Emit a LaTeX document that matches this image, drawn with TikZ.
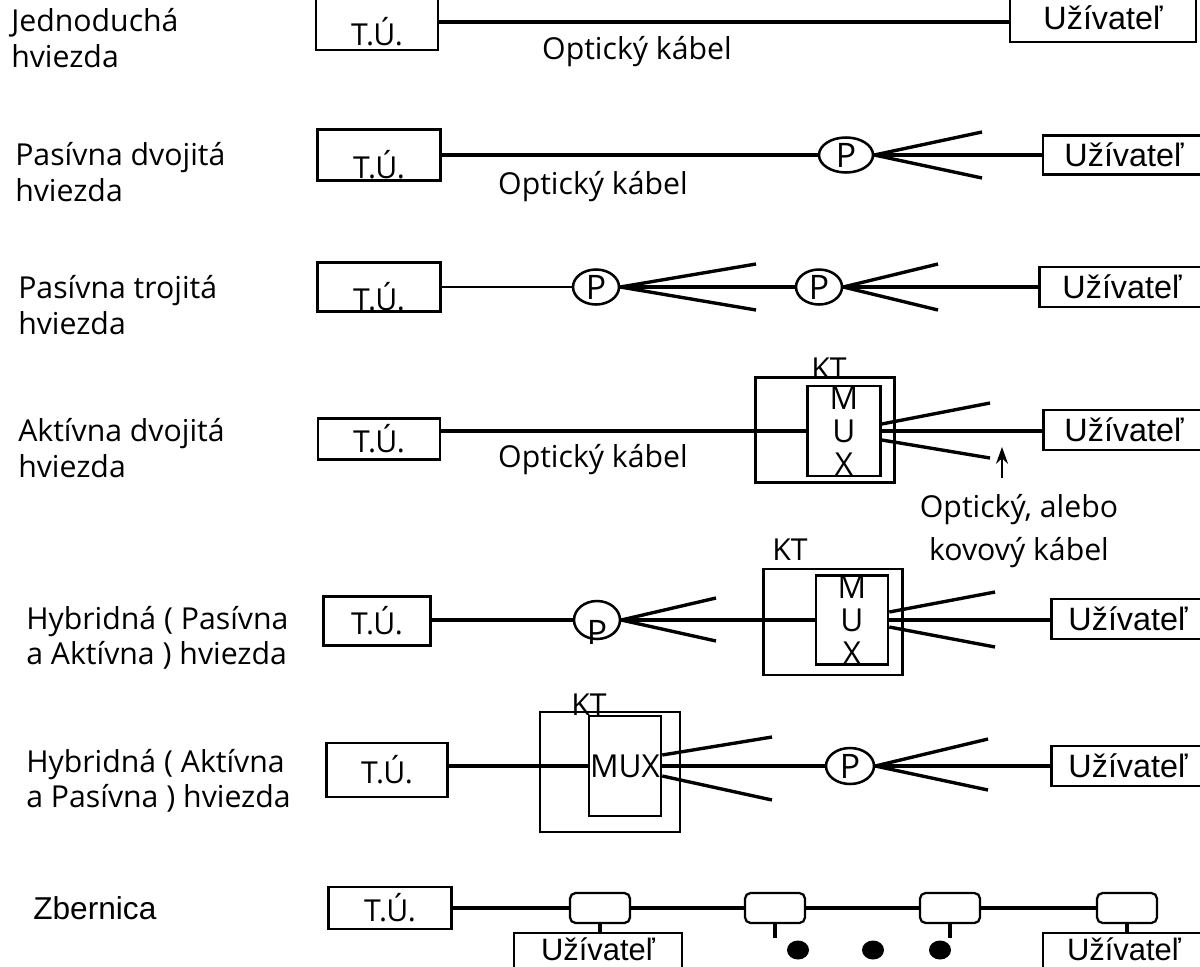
\documentclass[tikz,border=0pt]{standalone}
\usepackage{fontspec}
\setmainfont{Open Sans}
\newfontfamily\arialfont{Liberation Sans}
\usetikzlibrary{arrows.meta,shapes.geometric}

\newcommand{\lowtu}{\raisebox{-0.58cm}[0pt][0pt]{T.Ú.}}
\newcommand{\lowp}{\raisebox{-0.6cm}[0pt][0pt]{P}}
\newcommand{\bususer}{\raisebox{-0.15cm}[0pt][0pt]{Užívateľ}}

\begin{document}
\begin{tikzpicture}[x=0.025cm, y=-0.025cm,
    every node/.style={font=\fontsize{21.5}{25}\selectfont, inner sep=0pt},
    sz/.style 2 args={minimum width=#1*0.025cm, minimum height=#2*0.025cm},
    tubox/.style={draw, line width=1.8pt},
    userbox/.style={draw, line width=1.8pt, font=\arialfont\fontsize{23}{25}\selectfont},
    splitter/.style={draw, ellipse, line width=1.8pt, font=\fontsize{24}{25}\selectfont},
    ktbox/.style={draw, line width=1.8pt},
    muxbox/.style={draw, line width=1.8pt, align=center, font=\fontsize{22.5}{23.5}\selectfont},
    tapbox/.style={draw, rounded corners=4pt, line width=1.6pt},
    busdot/.style={fill, ellipse},
    cable/.style={line width=2.4pt},
    trunk/.style={line width=3.2pt},
    lbl/.style={anchor=west, align=left}]
  \useasboundingbox (0,0) rectangle (1200,966);
  \clip (0,0) rectangle (1200,966);

  % row titles
  \node[lbl] (l1) at (11,38) {Jednoduchá\\hviezda};
  \node[lbl] (l2) at (15,172) {Pasívna dvojitá\\hviezda};
  \node[lbl] (l3) at (18,305) {Pasívna trojitá\\hviezda};
  \node[lbl] (l4) at (18,448) {Aktívna dvojitá\\hviezda};
  \node[lbl] (l5) at (26,638) {Hybridná ( Pasívna\\a Aktívna ) hviezda};
  \node[lbl] (l6) at (26,781) {Hybridná ( Aktívna\\a Pasívna ) hviezda};
  \node[lbl, font=\arialfont\fontsize{22.5}{25}\selectfont] (l7) at (33,908) {Zbernica};

  % simple star
  \node[tubox, sz={122}{56}] (tu1) at (377,22) {\lowtu};
  \node[userbox, sz={186}{48}] (u1) at (1103,18) {Užívateľ};
  \draw[cable] (tu1.east) -- (tu1.east -| u1.west);
  \node (ok1) at (637,52) {Optický kábel};

  % passive double star
  \node[tubox, sz={123}{51}] (tu2) at (379,155) {\lowtu};
  \node[splitter, sz={54}{35}] (p2) at (846,155) {P};
  \node[userbox, sz={162}{39}] (u2) at (1124,155) {Užívateľ};
  \coordinate (f2a) at (982,132);
  \coordinate (f2b) at (982,178);
  \draw[cable] (tu2.east) -- (p2.west);
  \draw[cable] (p2.east) -- (f2a);
  \draw[cable] (p2.east) -- (f2b);
  \draw[cable] (p2.east) -- (u2.west);
  \node (ok2) at (593,187) {Optický kábel};

  % passive triple star
  \node[tubox, sz={123}{49}] (tu3) at (379,287) {\lowtu};
  \node[splitter, sz={46}{35}] (p3a) at (596,287) {P};
  \node[splitter, sz={46}{35}] (p3b) at (819,287) {P};
  \node[userbox, sz={165}{40}] (u3) at (1122,287) {Užívateľ};
  \coordinate (f3a) at (756,264);
  \coordinate (f3b) at (756,310);
  \coordinate (f3c) at (938,264);
  \coordinate (f3d) at (938,310);
  \draw[line width=1.6pt] (tu3.east) -- (p3a.west);
  \draw[cable] (p3a.east) -- (f3a);
  \draw[cable] (p3a.east) -- (f3b);
  \draw[trunk] (p3a.east) -- (p3b.west);
  \draw[cable] (p3b.east) -- (f3c);
  \draw[cable] (p3b.east) -- (f3d);
  \draw[trunk] (p3b.east) -- (u3.west);

  % active double star
  \node[tubox, sz={122}{41}] (tu4) at (379,439) {T.Ú.};
  \node[ktbox, sz={139}{105}] (kt4) at (825,430) {};
  \node (kt4l) at (829,369) {KT};
  \node[muxbox, sz={73}{90}] (mux4) at (844,431) {M\\U\\X};
  \node[userbox, sz={161}{40}] (u4) at (1124,430) {Užívateľ};
  \coordinate (f4a) at (990,403);
  \coordinate (f4b) at (990,458);
  \draw[cable] (tu4.east |- mux4.west) -- (mux4.west);
  \draw[cable] (mux4.east |- 0,424) -- (f4a);
  \draw[cable] (mux4.east |- 0,440) -- (f4b);
  \draw[cable] (mux4.east) -- (u4.west |- mux4.east);
  \node (ok4) at (593,460) {Optický kábel};
  \coordinate (ar0) at (1002,478);
  \coordinate (ar1) at (1002,447);
  \draw[line width=1.6pt, -{Stealth[length=0.42cm, width=0.3cm]}] (ar0) -- (ar1);
  \node[align=center, font=\fontsize{21.5}{30}\selectfont] (ok4b) at (1019,531) {Optický, alebo\\kovový kábel};

  % hybrid passive + active
  \node[tubox, sz={107}{49}] (tu5) at (377,621) {\raisebox{-0.1cm}{T.Ú.}};
  \node[splitter, sz={46}{38}] (p5) at (597,620) {\lowp};
  \node[ktbox, sz={139}{106}] (kt5) at (833,622) {};
  \node (kt5l) at (790,550) {KT};
  \node[muxbox, sz={72}{89}] (mux5) at (852,620) {M\\U\\X};
  \node[userbox, sz={153}{40}] (u5) at (1128,619) {Užívateľ};
  \coordinate (f5a) at (716,598);
  \coordinate (f5b) at (716,641);
  \coordinate (f5c) at (995,592);
  \coordinate (f5d) at (995,647);
  \draw[cable] (tu5.east |- p5.west) -- (p5.west);
  \draw[cable] (p5.east) -- (f5a);
  \draw[cable] (p5.east) -- (f5b);
  \draw[cable] (p5.east) -- (mux5.west);
  \draw[cable] (mux5.east |- 0,612) -- (f5c);
  \draw[cable] (mux5.east |- 0,627) -- (f5d);
  \draw[cable] (mux5.east) -- (u5.west |- mux5.east);

  % hybrid active + passive
  \node[tubox, sz={121}{54}] (tu6) at (387,770) {T.Ú.};
  \node[ktbox, sz={140}{120}] (kt6) at (610,772) {};
  \node (kt6l) at (589,705) {KT};
  \node[muxbox, sz={72}{100}] (mux6) at (625,766) {MUX};
  \node[splitter, sz={48}{36}] (p6) at (850,766) {P};
  \node[userbox, sz={153}{40}] (u6) at (1128,766) {Užívateľ};
  \coordinate (f6a) at (772,737);
  \coordinate (f6b) at (772,800);
  \coordinate (f6c) at (988,739);
  \coordinate (f6d) at (988,790);
  \draw[cable] (tu6.east |- mux6.west) -- (mux6.west);
  \draw[cable] (mux6.east |- 0,755) -- (f6a);
  \draw[cable] (mux6.east |- 0,776) -- (f6b);
  \draw[cable] (mux6.east) -- (p6.west);
  \draw[cable] (p6.east) -- (f6c);
  \draw[cable] (p6.east) -- (f6d);
  \draw[cable] (p6.east) -- (u6.west);

  % bus
  \node[tubox, sz={123}{42}] (tu7) at (390,908) {T.Ú.};
  \node[tapbox, sz={60}{30}] (s1) at (600,908) {};
  \node[tapbox, sz={60}{30}] (s2) at (775,908) {};
  \node[tapbox, sz={60}{30}] (s3) at (950,908) {};
  \node[tapbox, sz={60}{30}] (s4) at (1127,908) {};
  \node[userbox, sz={168}{42}, font=\arialfont\fontsize{22}{25}\selectfont] (ub1) at (598,954) {\bususer};
  \node[userbox, sz={162}{42}, font=\arialfont\fontsize{22}{25}\selectfont] (ub2) at (1124,954) {\bususer};
  \coordinate (e2) at (775,938);
  \coordinate (e3) at (950,938);
  \draw[cable] (tu7.east |- s1.west) -- (s1.west);
  \draw[cable] (s1.east) -- (s2.west);
  \draw[cable] (s2.east) -- (s3.west);
  \draw[cable] (s3.east) -- (s4.west);
  \draw[cable] (s1.south) -- (s1.south |- ub1.north);
  \draw[cable] (s2.south) -- (e2);
  \draw[cable] (s3.south) -- (e3);
  \draw[cable] (s4.south) -- (s4.south |- ub2.north);
  \node[busdot, sz={22}{19}] (d1) at (798,950) {};
  \node[busdot, sz={22}{19}] (d2) at (873,950) {};
  \node[busdot, sz={22}{19}] (d3) at (940,950) {};
\end{tikzpicture}
\end{document}
